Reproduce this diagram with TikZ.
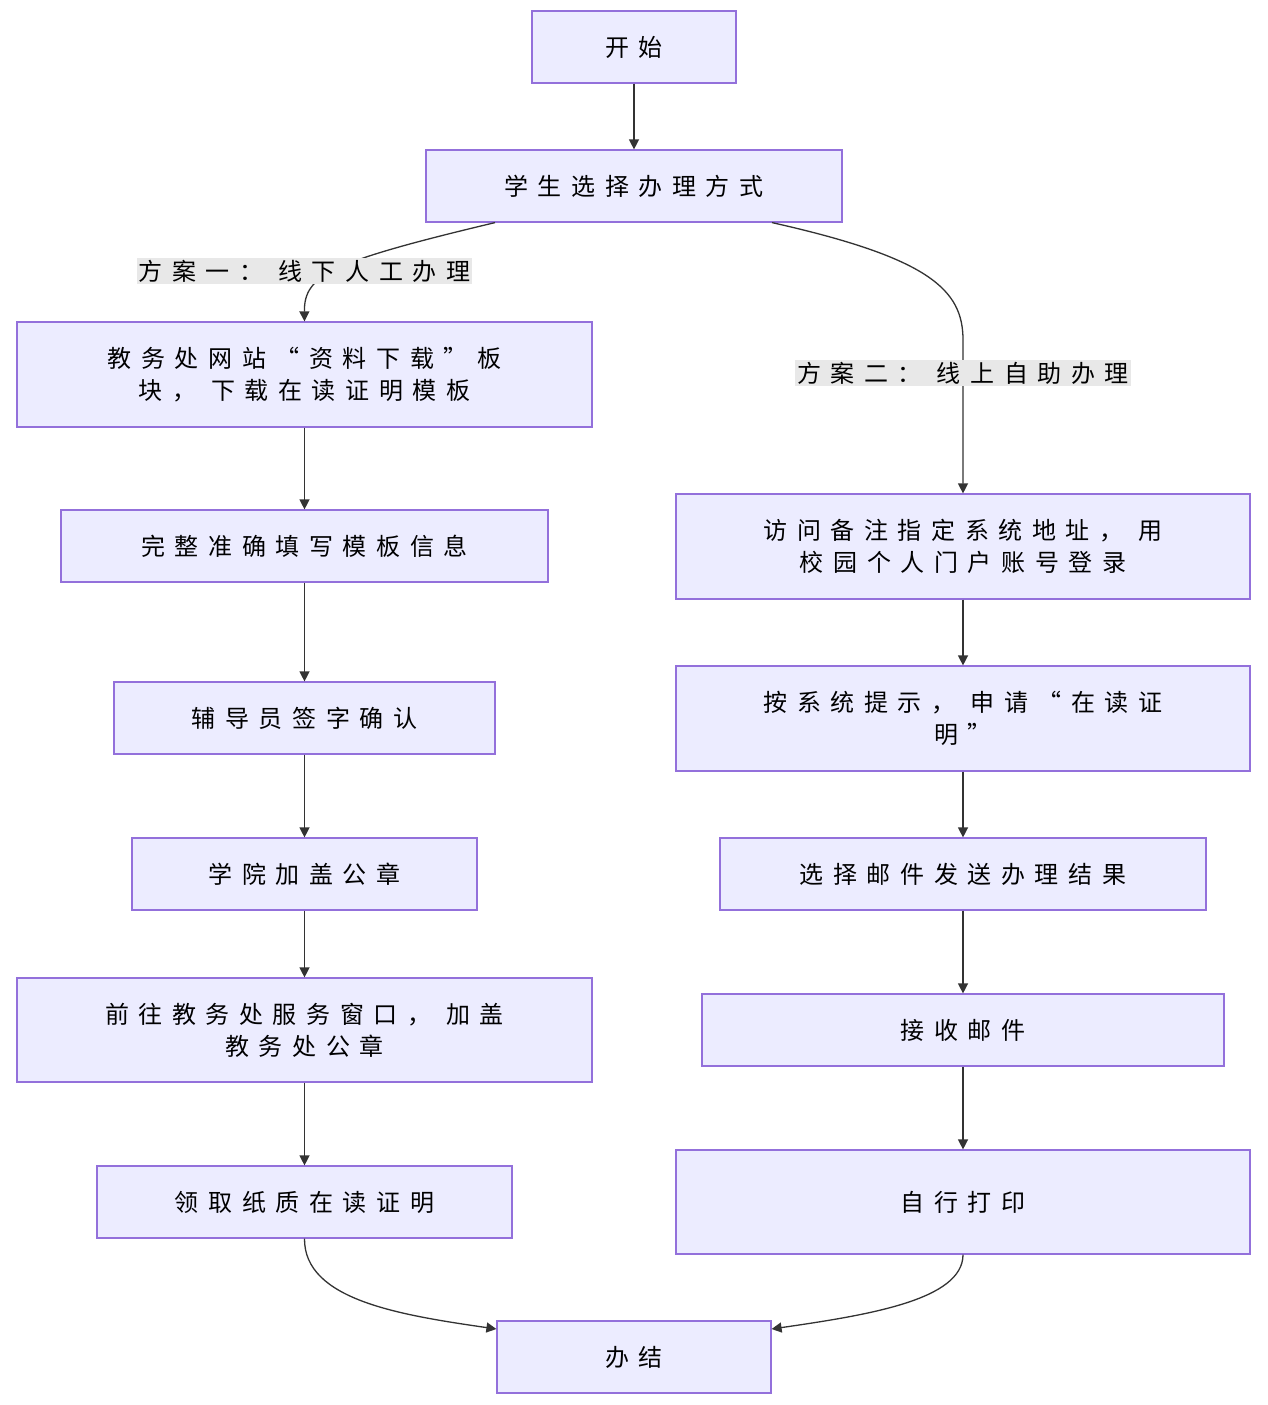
\documentclass[tikz,border=0pt]{standalone}
\usepackage{fontspec}
\setmainfont{Noto Sans CJK SC}[LetterSpace=40]
\usetikzlibrary{arrows.meta}
\definecolor{boxfill}{HTML}{ECECFF}
\definecolor{boxline}{HTML}{9370DB}
\definecolor{lblbg}{HTML}{E8E8E8}
\definecolor{edge}{HTML}{333333}
\tikzset{
 box/.style={draw=boxline,fill=boxfill,line width=1.2pt,align=center,font=\fontsize{24}{32}\selectfont,inner sep=0pt},
 lbl/.style={fill=lblbg,font=\fontsize{24}{30}\selectfont,inner sep=2pt},
 conn/.style={draw=edge,line width=1.3pt,-{Triangle[length=10pt,width=10pt]}}
}
\begin{document}
\begin{tikzpicture}[x=1pt,y=-1pt]
\useasboundingbox[fill=white] (0,0) rectangle (1268,1405);
\node[box,minimum width=204,minimum height=72] (s) at (634,47) {开始};
\node[box,minimum width=416,minimum height=72] (c) at (634,186) {学生选择办理方式};
\node[box,minimum width=575,minimum height=105] (l1) at (304.5,374.5) {教务处网站“资料下载”板\\块， 下载在读证明模板};
\node[box,minimum width=487,minimum height=72] (l2) at (304.5,546) {完整准确填写模板信息};
\node[box,minimum width=381,minimum height=72] (l3) at (304.5,718) {辅导员签字确认};
\node[box,minimum width=345,minimum height=72] (l4) at (304.5,874) {学院加盖公章};
\node[box,minimum width=575,minimum height=104] (l5) at (304.5,1030) {前往教务处服务窗口， 加盖\\教务处公章};
\node[box,minimum width=415,minimum height=72] (l6) at (304.5,1202) {领取纸质在读证明};
\node[box,minimum width=574,minimum height=105] (r1) at (963,546.5) {访问备注指定系统地址， 用\\校园个人门户账号登录};
\node[box,minimum width=574,minimum height=105] (r2) at (963,718.5) {按系统提示， 申请“在读证\\明”};
\node[box,minimum width=486,minimum height=72] (r3) at (963,874) {选择邮件发送办理结果};
\node[box,minimum width=522,minimum height=72] (r4) at (963,1030) {接收邮件};
\node[box,minimum width=574,minimum height=104] (r5) at (963,1202) {自行打印};
\node[box,minimum width=274,minimum height=72] (e) at (634,1357) {办结};
\draw[conn] (s) -- (c);
\draw[conn] ([xshift=-139pt]c.south) .. controls (330,262) and (304,275) .. (l1.north);
\draw[conn] ([xshift=138pt]c.south) .. controls (930,258) and (963,290) .. (963,340) -- (r1.north);
\node[lbl] (la) at (304.5,271) {方案一： 线下人工办理};
\node[lbl] (lb) at (963,373) {方案二： 线上自助办理};
\draw[conn] (l1) -- (l2);
\draw[conn] (l2) -- (l3);
\draw[conn] (l3) -- (l4);
\draw[conn] (l4) -- (l5);
\draw[conn] (l5) -- (l6);
\draw[conn] (r1) -- (r2);
\draw[conn] (r2) -- (r3);
\draw[conn] (r3) -- (r4);
\draw[conn] (r4) -- (r5);
\draw[conn] (l6.south) .. controls (304,1300) and (400,1315) .. ([yshift=28pt]e.west);
\draw[conn] (r5.south) .. controls (963,1300) and (868,1315) .. ([yshift=28pt]e.east);
\end{tikzpicture}
\end{document}
